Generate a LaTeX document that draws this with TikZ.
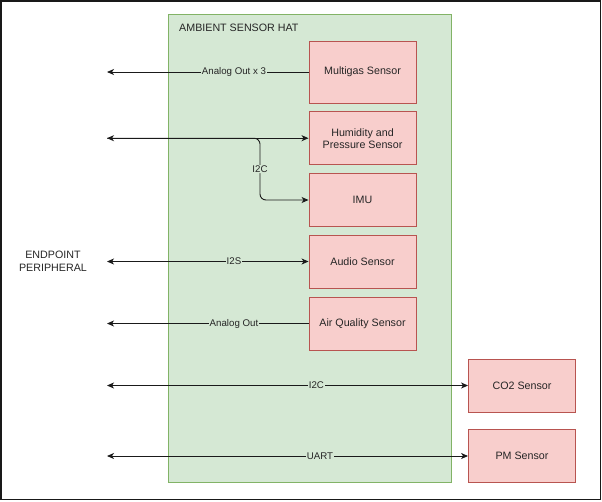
\documentclass[tikz,border=0pt]{standalone}
\usepackage{fontspec}
\setmainfont{Liberation Sans}
\usetikzlibrary{arrows.meta}
\definecolor{hatfill}{HTML}{D5E8D4}
\definecolor{hatline}{HTML}{82B366}
\definecolor{senfill}{HTML}{F8CECC}
\definecolor{senline}{HTML}{B85450}
\definecolor{wire}{HTML}{1A1A1A}
\begin{document}
\begin{tikzpicture}[x=1pt,y=-1pt,
  sensor/.style={draw=senline,fill=senfill,line width=0.9pt,minimum width=107pt,minimum height=53pt,inner sep=0pt,align=center,font=\fontsize{10.7}{12}\selectfont,text=black!85},
  wirestyle/.style={draw=wire,line width=0.9pt},
  tip/.style={-{Stealth[length=7pt,width=6pt,inset=2pt]}},
  bitip/.style={{Stealth[length=7pt,width=6pt,inset=2pt]}-{Stealth[length=7pt,width=6pt,inset=2pt]}},
  elabel/.style={font=\fontsize{9.7}{11}\selectfont,fill=hatfill,inner sep=0.6pt,text=black!85},
  plain/.style={font=\fontsize{10.7}{12.5}\selectfont,text=black!85,align=center,inner sep=0pt}
]
\useasboundingbox (0,0) rectangle (602,501);
\draw[black!90,line width=1.5pt] (0.75,0.75) rectangle (600.5,499.5);

\node[draw=hatline,fill=hatfill,line width=0.9pt,minimum width=283pt,minimum height=468pt,inner sep=0pt] (hat) at (309.5,248) {};
\node[plain,anchor=west] (title) at (179,28) {AMBIENT SENSOR HAT};

\node[sensor,minimum height=62pt] (mg) at (362.5,72) {Multigas Sensor};
\node[sensor] (hp) at (362.5,138.2) {Humidity and\\Pressure Sensor};
\node[sensor] (imu) at (362.5,200) {IMU};
\node[sensor] (audio) at (362.5,261.5) {Audio Sensor};
\node[sensor] (air) at (362.5,323.5) {Air Quality Sensor};
\node[sensor] (co2) at (522,385.5) {CO2 Sensor};
\node[sensor] (pm) at (522,456) {PM Sensor};

\node[plain] (ep) at (53,261.5) {ENDPOINT\\PERIPHERAL};

\coordinate (lmg) at (107,72);
\coordinate (lhp) at (107,138.2);
\coordinate (lau) at (107,261.5);
\coordinate (lair) at (107,323.5);
\coordinate (lco2) at (107,385.5);
\coordinate (lpm) at (107,456);

\draw[wirestyle,tip] (mg.west) -- node[elabel,pos=0.37]{Analog Out x 3} (lmg);
\draw[wirestyle,bitip] (lhp) -- (hp.west);
\draw[wirestyle,tip,rounded corners=6pt] (lhp) -- (260,138.2) -- node[elabel,pos=0.5]{I2C} (260,200) -- (imu.west);
\draw[wirestyle,bitip] (lau) -- node[elabel,pos=0.63]{I2S} (audio.west);
\draw[wirestyle,tip] (air.west) -- node[elabel,pos=0.37]{Analog Out} (lair);
\draw[wirestyle,bitip] (lco2) -- node[elabel,pos=0.58]{I2C} (co2.west);
\draw[wirestyle,bitip] (lpm) -- node[elabel,pos=0.59]{UART} (pm.west);
\end{tikzpicture}
\end{document}
